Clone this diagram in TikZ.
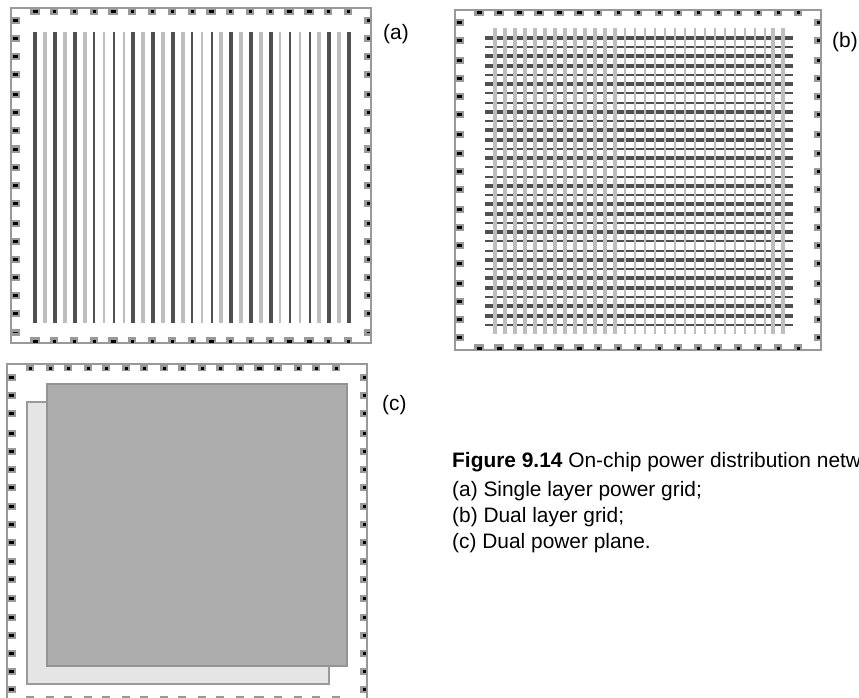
\documentclass[tikz,border=0pt]{standalone}
\usepackage{fontspec}
\setmainfont{Liberation Sans}
\definecolor{framegray}{HTML}{999999}
\definecolor{raildark}{HTML}{505050}
\definecolor{raillight}{HTML}{BEBEBE}
\tikzset{
  frame/.style={draw=framegray,line width=2pt},
  pad/.style={rectangle,fill=framegray,inner sep=0pt,outer sep=0pt},
  core/.style={rectangle,fill=black,inner sep=0pt,outer sep=0pt},
  vdd/.style={draw=raildark,line width=#1},
  gnd/.style={draw=raillight,line width=#1},
  lbl/.style={anchor=base west,inner sep=0pt,font=\fontsize{20.9pt}{25pt}\selectfont},
}
\begin{document}
\begin{tikzpicture}[x=1pt,y=-1pt]
\useasboundingbox (0,0) rectangle (859,698);
\clip (0,0) rectangle (859,698);
% (a) single layer
\foreach \x/\w/\c in {35/4/vdd,45/4/gnd,55/4/vdd,65/4/gnd,75/4/vdd,85/4/gnd,94/2/vdd,104/2/gnd,114/2/vdd,124/2/gnd,133/4/vdd,143/4/gnd,153/4/vdd,163/4/gnd,173/4/vdd,183/4/gnd,192/2/vdd,202/2/gnd,212/2/vdd,221/4/gnd,231/4/vdd,241/4/gnd,251/4/vdd,261/4/gnd,271/4/vdd,280/2/gnd,290/2/vdd,300/2/gnd,310/2/vdd,319/4/gnd,329/4/vdd,339/4/gnd,349/4/vdd}{%
 \draw[\c=\w pt] (\x,32)--(\x,323);}
\draw[frame] (11,8.5) rectangle (371,343);
\foreach \x/\w in {35/10,54/8,74/8,94/8,113/10,132/8,152/8,172/8,192/8,211/10,230/8,250/8,270/8,289/10,309/10,328/8,348/8}{%
 \node[pad,minimum width=\w pt,minimum height=6.5pt] (atop\x) at (\x,11.5){};
 \node[core,minimum width=\w pt-5pt,minimum height=3pt] (ctop\x) at (\x,11.5){};
 \node[pad,minimum width=\w pt,minimum height=6.5pt] (abot\x) at (\x,340){};
 \node[core,minimum width=\w pt-5pt,minimum height=3pt] (cbot\x) at (\x,341){};}
\foreach \y/\h in {21/3,39/3,57/3,75/3,95/3,113/3,131/3,149/3,167/3,185/3,203/3,223/3,241/3,259/3,277/3,295/3,313/3,332/1}{%
 \node[pad,minimum width=8pt,minimum height=7pt] (alft\y) at (16,\y){};
 \node[core,minimum width=5.5pt,minimum height=\h pt] (clft\y) at (15.5,\y){};
 \node[pad,minimum width=7pt,minimum height=7pt] (argt\y) at (367.5,\y){};
 \node[core,minimum width=3.5pt,minimum height=\h pt] (crgt\y) at (368.5,\y){};}
\node[lbl] (la) at (383,40) {(a)};
% (b) dual layer
\foreach \y/\w in {38/4,47/2,56/4,66/4,75/2,84/4,93/2,103/2,112/4,121/2,130/4,140/4,149/2,158/4,167/2,177/2,186/4,195/2,204/4,214/4,223/2,232/4,241/2,251/2,260/4,269/2,278/4,288/4,297/2,306/4,316/4,325/2}{%
 \draw[vdd=\w pt] (485,\y)--(793,\y);}
\foreach \x in {495,505,...,615,773,783}{%
 \draw[gnd=4pt] (\x,28)--(\x,334);}
\foreach \x in {624.5,634.5,...,765}{%
 \draw[gnd=2pt] (\x,28)--(\x,334);}
\draw[frame] (455,10) rectangle (821,350);
\foreach \x/\w in {479/10,499/10,519/10,539/10,559/10,579/10,598/8,618/8,638/8,659/8,678/8,698/8,718/8,738/8,758/8,778/8,798/8}{%
 \node[pad,minimum width=\w pt,minimum height=6.5pt] (btop\x) at (\x,13){};
 \node[core,minimum width=\w pt-5pt,minimum height=3pt] (dtop\x) at (\x,13){};
 \node[pad,minimum width=\w pt,minimum height=6.5pt] (bbot\x) at (\x,347){};
 \node[core,minimum width=\w pt-5pt,minimum height=3pt] (dbot\x) at (\x,348){};}
\foreach \y in {23,41,61,79,97,115,135,153,171,189,209,227,245,263,283,301,319,337}{%
 \node[pad,minimum width=8pt,minimum height=7pt] (blft\y) at (460,\y){};
 \node[core,minimum width=5.5pt,minimum height=3pt] (dlft\y) at (459.5,\y){};
 \node[pad,minimum width=7pt,minimum height=7pt] (brgt\y) at (817.5,\y){};
 \node[core,minimum width=3.5pt,minimum height=3pt] (drgt\y) at (818.5,\y){};}
\node[lbl] (lb) at (832,48) {(b)};
% (c) dual plane
\draw[frame] (7,704)--(7,364)--(367,364)--(367,704);
\foreach \x/\w in {30/8,50/8,68/8,88/8,106/8,126/8,144/8,164/8,182/8,202/8,220/8,240/8,259/10,278/8,298/8,316/8,336/8}{%
 \node[pad,minimum width=\w pt,minimum height=6.5pt] (ctop\x) at (\x,368){};
 \node[core,minimum width=\w pt-5pt,minimum height=3pt] (etop\x) at (\x,368.5){};
 \node[pad,minimum width=\w pt,minimum height=6.5pt] (cbot\x) at (\x,699){};
 \node[core,minimum width=\w pt-5pt,minimum height=3pt,fill=white] (ebot\x) at (\x,700){};}
\foreach \y in {377,395,413,433,451,469,487,506,524,542,561,579,598,617,635,653,671,689}{%
 \node[pad,minimum width=8pt,minimum height=7pt] (clft\y) at (12,\y){};
 \node[core,minimum width=5.5pt,minimum height=3pt] (elft\y) at (11.5,\y){};
 \node[pad,minimum width=7pt,minimum height=7pt] (crgt\y) at (363.5,\y){};
 \node[core,minimum width=3.5pt,minimum height=3pt] (ergt\y) at (364.5,\y){};}
\draw[draw=framegray,fill=black!10,line width=1.6pt] (27,402) rectangle (329,684);
\draw[draw=black!42,fill=black!32,line width=2pt] (46.5,384) rectangle (347,666);
\node[lbl] (lc) at (382,410) {(c)};
% caption
\node[lbl] (cap) at (452,467) {\textbf{Figure 9.14} On-chip power distribution netw};
\node[lbl] (capa) at (452,496) {(a) Single layer power grid;};
\node[lbl] (capb) at (452,522) {(b) Dual layer grid;};
\node[lbl] (capc) at (452,548) {(c) Dual power plane.};
\end{tikzpicture}
\end{document}
